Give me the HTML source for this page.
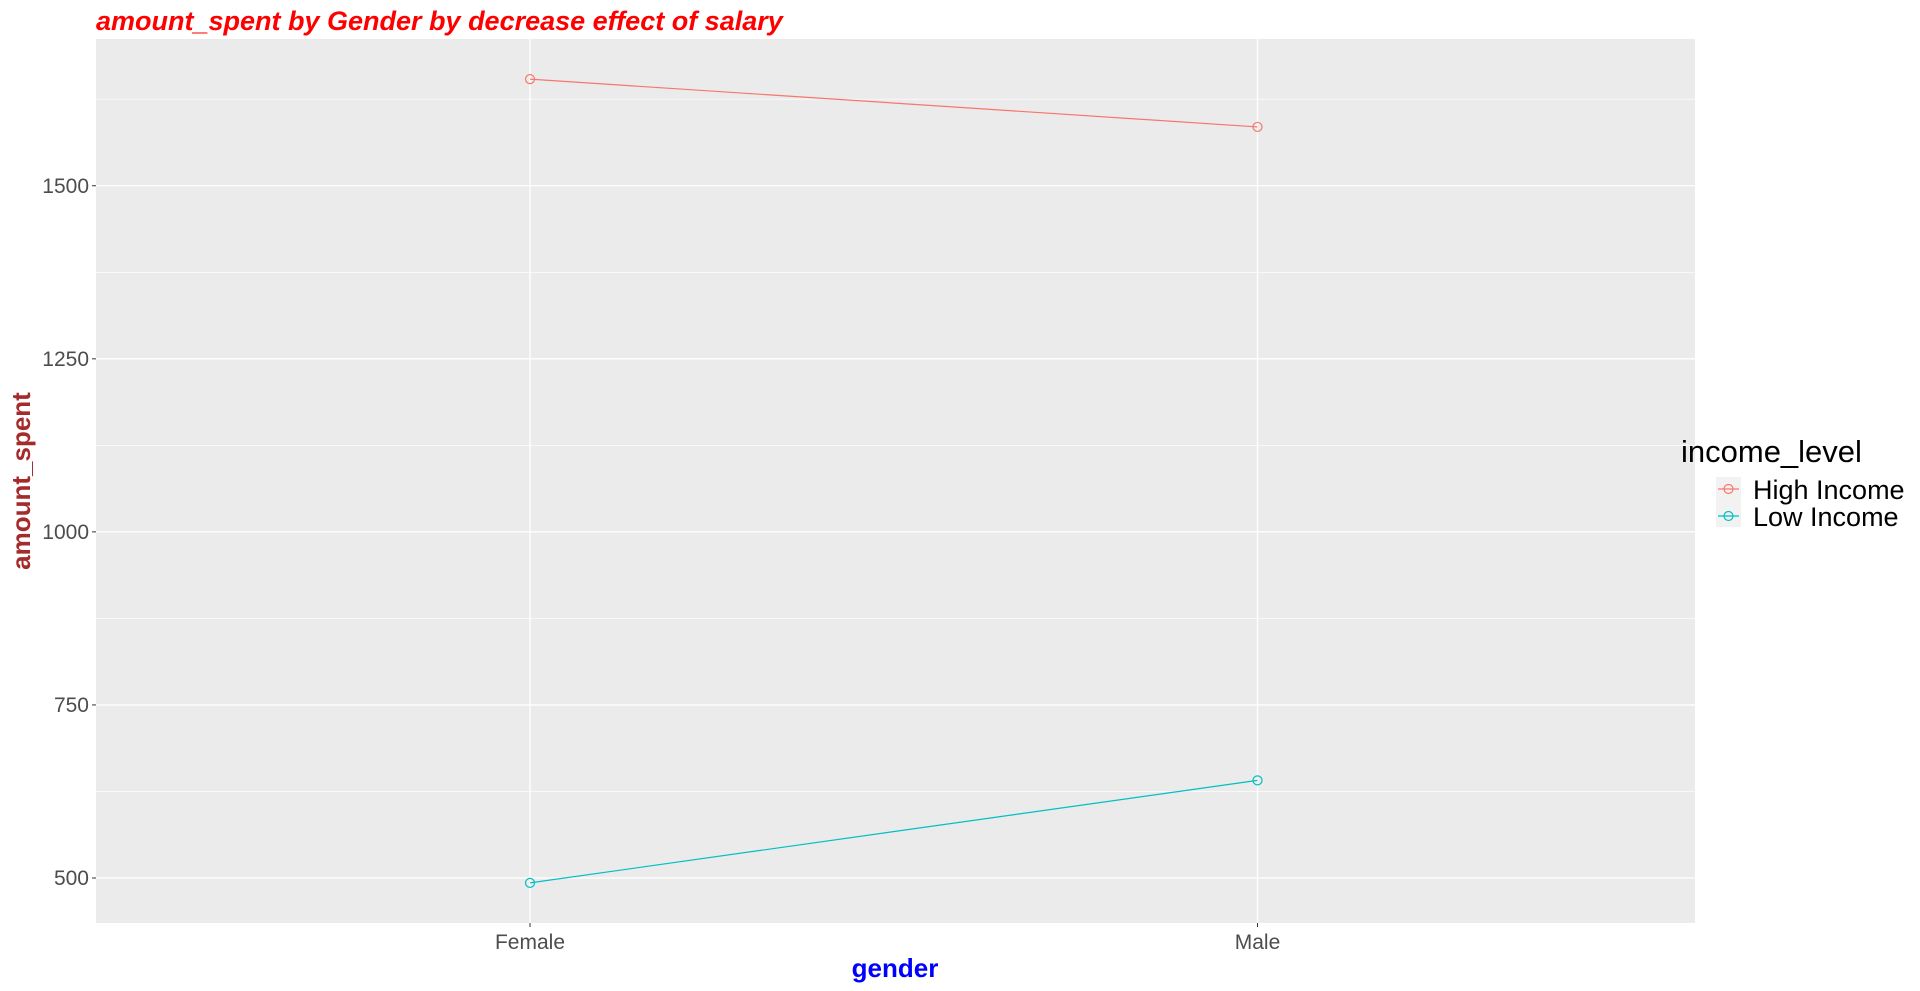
<!DOCTYPE html>
<html><head><meta charset="utf-8"><style>
body{margin:0;background:#fff;}
svg{display:block;font-family:"Liberation Sans",Arial,sans-serif;}
</style></head><body>
<svg id="chart" width="1920" height="991">
<rect x="0" y="0" width="1920" height="991" fill="#fff"/>
<rect x="96" y="39" width="1599" height="884" fill="#ebebeb"/>
<g id="grid"></g>
<g id="series"></g>
<g id="axes"></g>
<text x="96" y="30" font-size="27" font-weight="bold" font-style="italic" fill="#ff0000">amount_spent by Gender by decrease effect of salary</text>
<text x="895" y="977" font-size="26" font-weight="bold" fill="#0000ff" text-anchor="middle">gender</text>
<text transform="translate(30,481) rotate(-90)" font-size="26" font-weight="bold" fill="#a52a2a" text-anchor="middle">amount_spent</text>
<g>
<text x="1681" y="462" font-size="31" fill="#000">income_level</text>
<rect x="1716" y="477" width="25" height="50" fill="#f2f2f2"/>
<g>
<line x1="1718" y1="489" x2="1739" y2="489" stroke="#f8766d" stroke-width="1.2"/>
<circle cx="1728.5" cy="489" r="4.5" fill="none" stroke="#f8766d" stroke-width="1.2"/>
<text x="1753" y="499" font-size="27" fill="#000">High Income</text>
</g>
<g>
<line x1="1718" y1="516" x2="1739" y2="516" stroke="#00bfc4" stroke-width="1.2"/>
<circle cx="1728.5" cy="516" r="4.5" fill="none" stroke="#00bfc4" stroke-width="1.2"/>
<text x="1753" y="526" font-size="27" fill="#000">Low Income</text>
</g>
</g>
</svg>
<script>
const categories = ["Female", "Male"];
const highIncome = [1654, 1585];
const lowIncome = [493, 641];
const yTicks = [500, 750, 1000, 1250, 1500];
const yMinor = [625, 875, 1125, 1375, 1625];

const NS = "http://www.w3.org/2000/svg";
const PL = 96, PR = 1695, PT = 39, PB = 923;
const yMin = 435, yMax = 1712;
function xScale(i){ return 530 + i * 727.5; }
function yScale(v){ return PB - (v - yMin) / (yMax - yMin) * (PB - PT); }
function mk(tag, attrs, parent){ const e = document.createElementNS(NS, tag); for (const k in attrs) e.setAttribute(k, attrs[k]); parent.appendChild(e); return e; }

const grid = document.getElementById("grid");
yMinor.forEach(v => {
  const l = mk("line", {x1: PL, x2: PR, y1: yScale(v), y2: yScale(v), stroke: "#fff", "stroke-width": 0.6}, grid);
  
  
});
yTicks.forEach(v => {
  const l = mk("line", {x1: PL, x2: PR, y1: yScale(v), y2: yScale(v), stroke: "#fff", "stroke-width": 1.3}, grid);
  
  
});
categories.forEach((c, i) => {
  const l = mk("line", {x1: xScale(i), x2: xScale(i), y1: PT, y2: PB, stroke: "#fff", "stroke-width": 1.3}, grid);
  
  
});

const axes = document.getElementById("axes");
yTicks.forEach(v => {
  const t = mk("line", {x1: PL - 4, x2: PL, y1: yScale(v), y2: yScale(v), stroke: "#333", "stroke-width": 1}, axes);
  
  
  const tx = mk("text", {x: PL - 7, y: yScale(v) + 7, "font-size": 21, fill: "#4d4d4d", "text-anchor": "end"}, axes);
  tx.textContent = v;
  
  
});
categories.forEach((c, i) => {
  const t = mk("line", {x1: xScale(i), x2: xScale(i), y1: PB, y2: PB + 4, stroke: "#333", "stroke-width": 1}, axes);
  
  
  const tx = mk("text", {x: xScale(i), y: PB + 26, "font-size": 21, fill: "#4d4d4d", "text-anchor": "middle"}, axes);
  tx.textContent = c;
  
  
});

const series = document.getElementById("series");
[[highIncome, "#f8766d", "high-income"], [lowIncome, "#00bfc4", "low-income"]].forEach(([vals, col, nm]) => {
  const pts = vals.map((v, i) => xScale(i) + "," + yScale(v)).join(" ");
  const pl = mk("polyline", {points: pts, fill: "none", stroke: col, "stroke-width": 1.2}, series);
  
  
  vals.forEach((v, i) => {
    const c = mk("circle", {cx: xScale(i), cy: yScale(v), r: 4.5, fill: "none", stroke: col, "stroke-width": 1.2}, series);
    
    
  });
});
</script>
</body></html>
